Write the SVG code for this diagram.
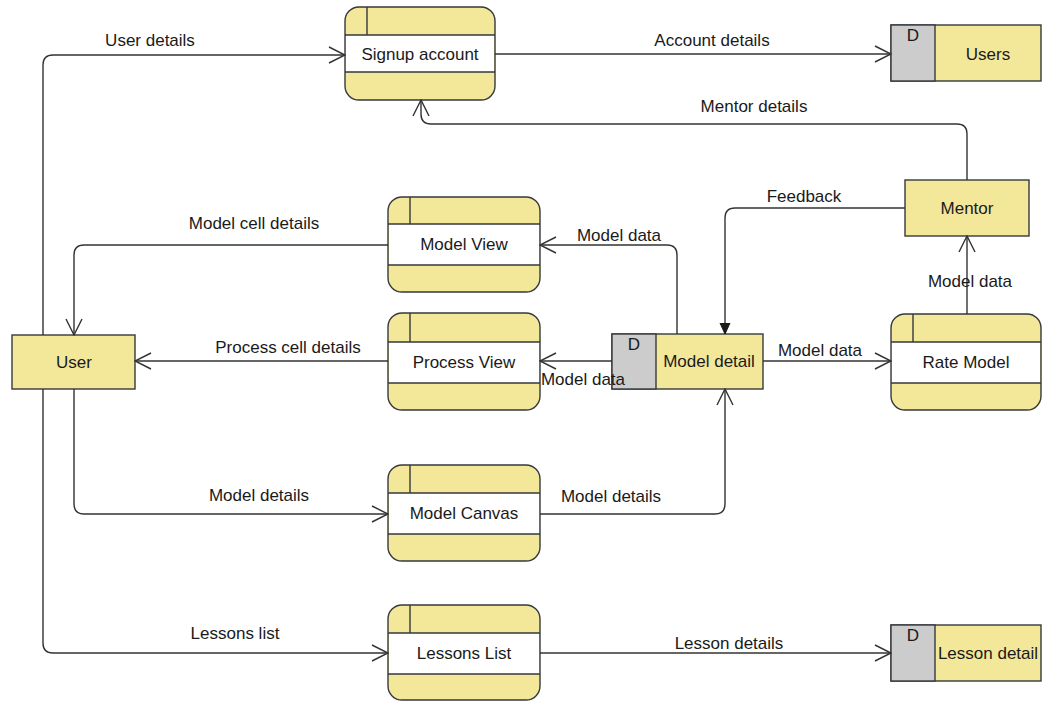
<svg xmlns="http://www.w3.org/2000/svg" width="1043" height="701" viewBox="0 0 1043 701">
  <style>
    .bg { fill: #ffffff; }
    .shape { fill: #f3e79a; stroke: #36393d; stroke-width: 1.4; }
    .band { fill: #ffffff; stroke: none; }
    .div { stroke: #36393d; stroke-width: 1.4; fill: none; }
    .grey { fill: #cccccc; stroke: #36393d; stroke-width: 1.4; }
    .edge { fill: none; stroke: #333333; stroke-width: 1.4; }
    text { font-family: "Liberation Sans", Arial, sans-serif; font-size: 17px; fill: #1a1a1a; }
    .c { text-anchor: middle; }
  </style>
  <defs>
    <marker id="open" markerUnits="userSpaceOnUse" markerWidth="18" markerHeight="18" viewBox="0 0 18 18" refX="17" refY="9" orient="auto">
      <path d="M1,1 L17,9 L1,17" fill="none" stroke="#333333" stroke-width="1.4"/>
    </marker>
    <marker id="block" markerUnits="userSpaceOnUse" markerWidth="12" markerHeight="12" viewBox="0 0 12 12" refX="11" refY="6" orient="auto">
      <path d="M0,1 L11,6 L0,11 Z" fill="#1a1a1a" stroke="#1a1a1a" stroke-width="1"/>
    </marker>
  </defs>

  <rect class="bg" x="0" y="0" width="1043" height="701"/>

  <!-- processes -->
  <g id="signup-account">
    <rect class="shape" x="345" y="7" width="150" height="93" rx="14"/>
    <rect class="band" x="346" y="35" width="148" height="37"/>
    <path class="div" d="M345,35 H495 M345,72 H495 M367,7 V35"/>
    <text class="c" x="420" y="60">Signup account</text>
  </g>

  <g id="model-view">
    <rect class="shape" x="388" y="197" width="152" height="95" rx="14"/>
    <rect class="band" x="389" y="224" width="150" height="41"/>
    <path class="div" d="M388,224 H540 M388,265 H540 M410,197 V224"/>
    <text class="c" x="464" y="250">Model View</text>
  </g>

  <g id="process-view">
    <rect class="shape" x="388" y="313" width="152" height="97" rx="14"/>
    <rect class="band" x="389" y="342" width="150" height="41"/>
    <path class="div" d="M388,342 H540 M388,383 H540 M410,313 V342"/>
    <text class="c" x="464" y="368">Process View</text>
  </g>

  <g id="model-canvas">
    <rect class="shape" x="388" y="465" width="152" height="96" rx="14"/>
    <rect class="band" x="389" y="493" width="150" height="41"/>
    <path class="div" d="M388,493 H540 M388,534 H540 M410,465 V493"/>
    <text class="c" x="464" y="519">Model Canvas</text>
  </g>

  <g id="lessons-list">
    <rect class="shape" x="388" y="605" width="152" height="95" rx="14"/>
    <rect class="band" x="389" y="633" width="150" height="41"/>
    <path class="div" d="M388,633 H540 M388,674 H540 M410,605 V633"/>
    <text class="c" x="464" y="659">Lessons List</text>
  </g>

  <g id="rate-model">
    <rect class="shape" x="891" y="314" width="150" height="96" rx="14"/>
    <rect class="band" x="892" y="342" width="148" height="41"/>
    <path class="div" d="M891,342 H1041 M891,383 H1041 M913,314 V342"/>
    <text class="c" x="966" y="368">Rate Model</text>
  </g>

  <!-- external entities -->
  <g id="user">
    <rect class="shape" x="12" y="335" width="123" height="54"/>
    <text class="c" x="74" y="368">User</text>
  </g>

  <g id="mentor">
    <rect class="shape" x="905" y="180" width="124" height="56"/>
    <text class="c" x="967" y="214">Mentor</text>
  </g>

  <!-- data stores -->
  <g id="users">
    <rect class="shape" x="891" y="25" width="150" height="56"/>
    <rect class="grey" x="891" y="25" width="44" height="56"/>
    <text class="c" x="913" y="41">D</text>
    <text class="c" x="988" y="60">Users</text>
  </g>

  <g id="model-detail">
    <rect class="shape" x="612" y="334" width="151" height="55"/>
    <rect class="grey" x="612" y="334" width="44" height="55"/>
    <text class="c" x="634" y="350">D</text>
    <text class="c" x="709" y="367">Model detail</text>
  </g>

  <g id="lesson-detail">
    <rect class="shape" x="891" y="625" width="150" height="56"/>
    <rect class="grey" x="891" y="625" width="44" height="56"/>
    <text class="c" x="913" y="641">D</text>
    <text class="c" x="988" y="659">Lesson detail</text>
  </g>

  <!-- connectors (drawn last so labels sit on top of boxes) -->
  <g id="connectors">
    <path class="edge" d="M43,335 V65 Q43,55 53,55 H345" marker-end="url(#open)"/>
    <path class="edge" d="M495,54 H891" marker-end="url(#open)"/>
    <path class="edge" d="M967,180 V134 Q967,124 957,124 H431 Q421,124 421,114 V100" marker-end="url(#open)"/>
    <path class="edge" d="M905,208 H735 Q725,208 725,218 V334" marker-end="url(#block)"/>
    <path class="edge" d="M967,314 V236" marker-end="url(#open)"/>
    <path class="edge" d="M763,361 H891" marker-end="url(#open)"/>
    <path class="edge" d="M677,334 V255 Q677,245 667,245 H540" marker-end="url(#open)"/>
    <path class="edge" d="M612,361 H540" marker-end="url(#open)"/>
    <path class="edge" d="M388,245 H84 Q74,245 74,255 V335" marker-end="url(#open)"/>
    <path class="edge" d="M388,361 H135" marker-end="url(#open)"/>
    <path class="edge" d="M74,389 V504 Q74,514 84,514 H388" marker-end="url(#open)"/>
    <path class="edge" d="M540,514 H715 Q725,514 725,504 V389" marker-end="url(#open)"/>
    <path class="edge" d="M43,389 V643 Q43,653 53,653 H388" marker-end="url(#open)"/>
    <path class="edge" d="M540,653 H891" marker-end="url(#open)"/>

    <text class="c" x="150" y="46">User details</text>
    <text class="c" x="712" y="46">Account details</text>
    <text class="c" x="754" y="112">Mentor details</text>
    <text class="c" x="804" y="202">Feedback</text>
    <text class="c" x="970" y="287">Model data</text>
    <text class="c" x="820" y="356">Model data</text>
    <text class="c" x="619" y="241">Model data</text>
    <text class="c" x="583" y="385">Model data</text>
    <text class="c" x="254" y="229">Model cell details</text>
    <text class="c" x="288" y="353">Process cell details</text>
    <text class="c" x="259" y="501">Model details</text>
    <text class="c" x="611" y="502">Model details</text>
    <text class="c" x="235" y="639">Lessons list</text>
    <text class="c" x="729" y="649">Lesson details</text>
  </g>
</svg>
